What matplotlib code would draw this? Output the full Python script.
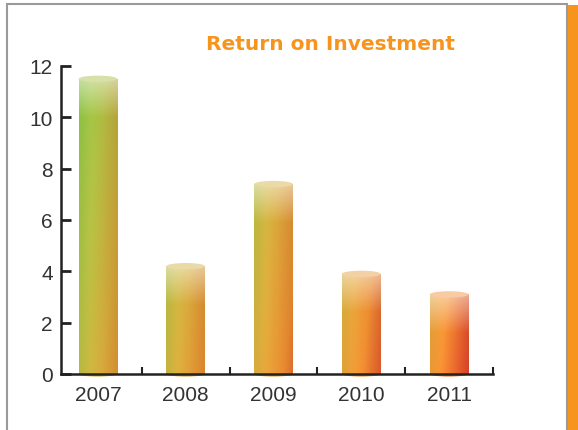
import numpy as np
import matplotlib
matplotlib.use("Agg")
import matplotlib.pyplot as plt
from matplotlib.colors import LinearSegmentedColormap
from matplotlib.patches import Ellipse, Rectangle

years = ["2007", "2008", "2009", "2010", "2011"]
roi = [11.5, 4.2, 7.4, 3.9, 3.1]
yticks = [0, 2, 4, 6, 8, 10, 12]

TITLE = "Return on Investment"
ORANGE = "#F7941D"
INK = "#222222"

plt.rcParams["font.family"] = ["Liberation Sans", "DejaVu Sans"]

# green -> amber -> red ramp used for the bar bodies
ramp = LinearSegmentedColormap.from_list(
    "roi",
    [(0.0, "#86C045"), (0.25, "#AEBC42"), (0.5, "#D6AA3C"),
     (0.75, "#F08F32"), (1.0, "#EA4B2C")],
)


def bar_texture(i, h, ymax=12.0):
    u = np.linspace(0, 1, 60)
    yy = np.linspace(h, 0, 240)
    U, Y = np.meshgrid(u, yy)
    t = 0.09 * i + 0.35 * U + 0.3 * (1 - Y / ymax)
    rgb = ramp(np.clip(t, 0, 1))[..., :3]
    # cylinder shading: faint highlight left of centre, darker right edge
    shade = 1 + 0.04 * np.exp(-((U - 0.3) / 0.2) ** 2) - 0.08 * np.clip(U - 0.6, 0, 1) / 0.4
    rgb = np.clip(rgb * shade[..., None], 0, 1)
    # pale glow just under the top
    glow = np.clip(1 - (h - Y) / 1.5, 0, 1) * 0.5
    rgb = rgb + (1 - rgb) * glow[..., None]
    return np.clip(rgb, 0, 1), t


fig = plt.figure(figsize=(5.78, 4.31), dpi=100)
ax = fig.add_axes([61 / 578, 1 - 375 / 431, (493 - 61) / 578, (375 - 67) / 431])

x = np.arange(len(years))
bars = ax.bar(x, roi, width=0.44, color="none", edgecolor="none", zorder=2)

for i, bar in enumerate(bars):
    x0, w, h = bar.get_x(), bar.get_width(), bar.get_height()
    rgb, t = bar_texture(i, h)
    im = ax.imshow(rgb, extent=(x0, x0 + w, 0, h), aspect="auto",
                   origin="upper", interpolation="bilinear", zorder=2)
    im.set_clip_path(bar)

    top = np.array(ramp(t[0, 30])[:3])
    ax.add_patch(Ellipse((x0 + w / 2, h), w, 0.25,
                         facecolor=top + (1 - top) * 0.55,
                         edgecolor="none", zorder=3))
    bottom = ramp(t[-1, 30])
    ax.add_patch(Ellipse((x0 + w / 2, 0), w, 0.2, facecolor=bottom,
                         edgecolor="none", zorder=1.9, clip_on=False))

ax.set_xlim(-0.42, 4.5)
ax.set_ylim(0, 12)

ax.set_xticks(x, years)
ax.set_xticks(x + 0.5, minor=True)
ax.set_yticks(yticks)
ax.tick_params(axis="x", which="major", length=0, pad=8,
               labelsize=15, labelcolor="#333333")
ax.tick_params(axis="x", which="minor", direction="in", length=5,
               width=1.5, color=INK)
ax.tick_params(axis="y", direction="in", length=7, width=2, pad=6,
               labelsize=15, labelcolor="#333333", color=INK)

for side in ("top", "right"):
    ax.spines[side].set_visible(False)
for side in ("left", "bottom"):
    ax.spines[side].set_color(INK)
    ax.spines[side].set_linewidth(1.8)

fig.text(330 / 578, 1 - 45 / 431, TITLE, color=ORANGE, fontsize=14.5,
         fontweight="bold", family="DejaVu Sans", ha="center", va="center")

# page frame and the orange edge strip
fig.add_artist(Rectangle((7 / 578, -0.1), 560 / 578, 1.1 - 5 / 431,
                         transform=fig.transFigure, fill=False,
                         edgecolor="#9A9A9A", lw=1.5))
fig.add_artist(Rectangle((568 / 578, 0), 10 / 578, 1 - 6 / 431,
                         transform=fig.transFigure, facecolor=ORANGE,
                         edgecolor="none"))

fig.savefig("out.png", dpi=100)
